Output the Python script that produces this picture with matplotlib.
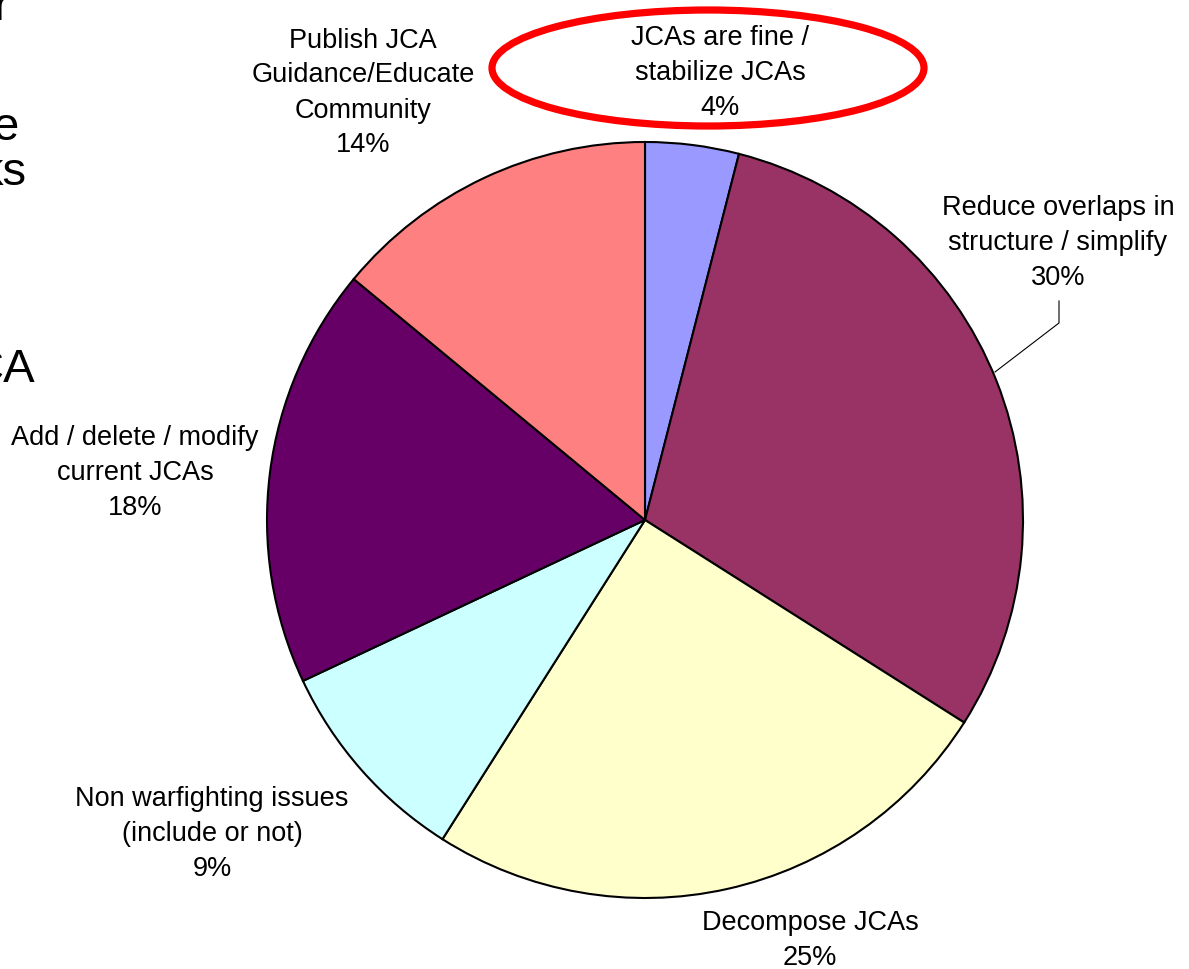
import matplotlib
matplotlib.use("Agg")
import matplotlib.pyplot as plt
from matplotlib.patches import Ellipse

plt.rcParams['font.family'] = ['Liberation Sans', 'DejaVu Sans']

# Survey responses on the JCA structure (share of responses, %)
categories = [
    "JCAs are fine /\nstabilize JCAs",
    "Reduce overlaps in\nstructure / simplify",
    "Decompose JCAs",
    "Non warfighting issues\n(include or not)",
    "Add / delete / modify\ncurrent JCAs",
    "Publish JCA\nGuidance/Educate\nCommunity",
]
values = [4, 30, 25, 9, 18, 14]
colors = ["#9999FF", "#993366", "#FFFFCC", "#CCFFFF", "#660066", "#FF8080"]

# Fragments of slide text that run off the left edge
side_text = ["r", "e", "ks", "CA"]

W, H = 1189, 970
fig = plt.figure(figsize=(W / 100, H / 100), dpi=100)
ax = fig.add_axes([0, 0, 1, 1])


def Y(y):
    return H - y


cx, cy, r = 645, Y(521), 378
ax.pie(values, colors=colors, startangle=90, counterclock=False,
       center=(cx, cy), radius=r, frame=True,
       wedgeprops=dict(edgecolor="black", linewidth=1.5))
ax.set_xlim(0, W)
ax.set_ylim(0, H)
ax.set_aspect("equal")
ax.axis("off")

# Label placement around the pie
label_pos = [(720, 73), (1058, 243), (810, 941), (212, 834), (135, 473), (363, 93)]
fs = 19.5
for cat, v, (lx, ly) in zip(categories, values, label_pos):
    ax.text(lx, Y(ly), f"{cat}\n{v}%", ha="center", va="center",
            fontsize=fs, linespacing=1.45, color="black")

# Leader line for the largest slice
ax.plot([1059, 1059, 995], [Y(302), Y(324), Y(373)], color="black", lw=0.8)

# Highlight ring around the "fine / stabilize" answer
ax.add_patch(Ellipse((708, Y(69)), 432, 116, fill=False,
                     edgecolor="#FF0000", linewidth=5.2))

# Cut-off slide text at left
side_pos = [(9, 20), (19, 140), (27, 185), (35, 382)]
for t, (sx, sy) in zip(side_text, side_pos):
    ax.text(sx, Y(sy), t, ha="right", va="baseline", fontsize=34, color="black")

fig.savefig("out.png", dpi=100)
